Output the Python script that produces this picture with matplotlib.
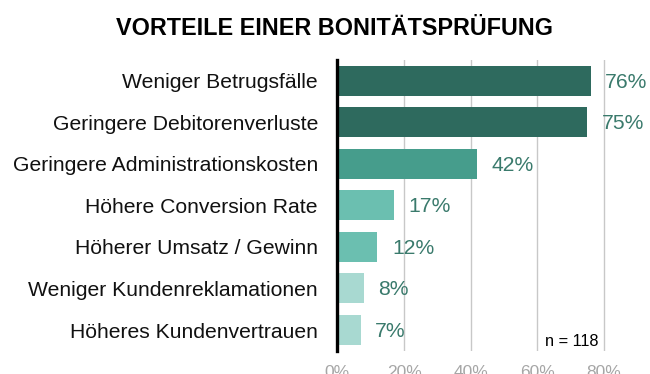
import matplotlib.pyplot as plt

plt.rcParams['font.family'] = ['Liberation Sans', 'DejaVu Sans']

categories = [
    "Weniger Betrugsfälle",
    "Geringere Debitorenverluste",
    "Geringere Administrationskosten",
    "Höhere Conversion Rate",
    "Höherer Umsatz / Gewinn",
    "Weniger Kundenreklamationen",
    "Höheres Kundenvertrauen",
]
values = [76, 75, 42, 17, 12, 8, 7]
colors = ["#2e6a5e", "#2e6a5e", "#469d8c", "#6bbfb0", "#6bbfb0", "#a8d9d1", "#a8d9d1"]
ticks = [0, 20, 40, 60, 80]
title = "VORTEILE EINER BONITÄTSPRÜFUNG"
note = "n = 118"

fig = plt.figure(figsize=(6.5, 3.74), dpi=100)
ax = fig.add_axes([0.519, 0.062, 0.481, 0.778])

y = list(range(len(categories)))[::-1]
ax.barh(y, values, height=0.72, color=colors, zorder=3)

for yi, v in zip(y, values):
    ax.annotate(f"{v}%", (v, yi), xytext=(10.5, -1), textcoords="offset points",
                ha="left", va="center", fontsize=15.2, color="#3a7a6c")

ax.set_xlim(0, 93.8)
ax.set_ylim(-0.5, len(categories) - 0.5)
ax.set_yticks(y)
ax.set_yticklabels(categories, fontsize=15.2, color="#111111")
ax.set_xticks(ticks)
ax.set_xticklabels([f"{t}%" for t in ticks], fontsize=12.5, color="#a6a6a6")
ax.tick_params(axis="both", length=0)
ax.tick_params(axis="y", pad=14)
ax.tick_params(axis="x", pad=10)

ax.grid(axis="x", color="#c8c8c8", linewidth=1, zorder=0)
for s in ["top", "right", "bottom"]:
    ax.spines[s].set_visible(False)
ax.spines["left"].set_linewidth(2.4)
ax.spines["left"].set_color("black")
ax.spines["left"].set_zorder(4)

ax.text(0.834, 0.005, note, transform=ax.transAxes, ha="right", va="bottom",
        fontsize=11.8, color="black")

fig.text(0.515, 0.925, title, ha="center", va="center", fontsize=16.8,
         fontweight="bold", color="black")

fig.savefig("out.png", dpi=100)
